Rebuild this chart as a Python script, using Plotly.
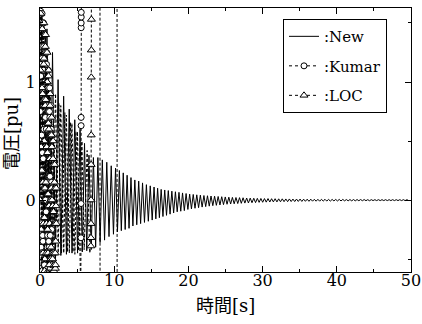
import plotly.graph_objects as go

# ---------------- data ----------------
# "New": one entry per swing cycle: period [s], peak value, trough value
new_periods = [0.75, 0.75, 0.75, 0.75, 0.75, 0.75, 0.75,
               0.60, 0.60, 0.60, 0.60, 0.60, 0.60, 0.60, 0.60,
               0.52, 0.52, 0.52, 0.52, 0.52, 0.52, 0.52, 0.52, 0.52, 0.52] + [0.48] * 72
new_peaks = [1.62, 1.45, 1.25, 1.02, 0.88, 0.77, 0.68,
             0.60, 0.48, 0.38, 0.36, 0.36, 0.34, 0.32, 0.29,
             0.27, 0.25, 0.23, 0.21, 0.19, 0.17, 0.16, 0.145, 0.13, 0.12,
             0.11, 0.10, 0.09, 0.085, 0.08, 0.075, 0.07, 0.065, 0.06, 0.055,
             0.05, 0.047, 0.044, 0.041, 0.038, 0.036, 0.034, 0.032, 0.030, 0.028,
             0.026, 0.024, 0.022, 0.021, 0.020, 0.019, 0.017, 0.016, 0.015, 0.014, 0.013,
             0.012, 0.012, 0.011, 0.011, 0.010, 0.010, 0.009, 0.009, 0.008, 0.008,
             0.008, 0.007, 0.007, 0.007, 0.006, 0.006, 0.006, 0.006, 0.005, 0.005,
             0.005, 0.005, 0.005, 0.004, 0.004, 0.004, 0.004, 0.004, 0.004, 0.003,
             0.003, 0.003, 0.003, 0.003, 0.003, 0.003, 0.003, 0.003, 0.003, 0.003, 0.003]
new_troughs = [-0.55, -0.52, -0.50, -0.47, -0.46, -0.45, -0.45,
               -0.44, -0.43, -0.42, -0.40, -0.36, -0.34, -0.31, -0.29,
               -0.27, -0.26, -0.25, -0.24, -0.22, -0.21, -0.20, -0.19, -0.18, -0.17,
               -0.16, -0.15, -0.14, -0.13, -0.12, -0.11, -0.10, -0.095, -0.09, -0.08,
               -0.075, -0.07, -0.065, -0.06, -0.056, -0.052, -0.048, -0.045, -0.042, -0.039,
               -0.036, -0.034, -0.032, -0.030, -0.028, -0.026, -0.025, -0.023, -0.022, -0.020, -0.019,
               -0.018, -0.017, -0.016, -0.016, -0.015, -0.014, -0.014, -0.013, -0.013, -0.012,
               -0.012, -0.011, -0.011, -0.010, -0.010, -0.010, -0.009, -0.009, -0.009, -0.008,
               -0.008, -0.008, -0.007, -0.007, -0.007, -0.007, -0.006, -0.006, -0.006, -0.006,
               -0.005, -0.005, -0.005, -0.005, -0.005, -0.005, -0.005, -0.005, -0.005, -0.005, -0.005]

# "Kumar": densely sampled start (every 0.025 s, with markers) ...
sample_step = 0.025
kumar_dense = [0.00, 0.75, 1.45, 1.60, 1.05, 0.25, -0.40, -0.58,
               -0.20, 0.55, 1.30, 1.58, 1.20, 0.40, -0.30, -0.60,
               -0.35, 0.35, 1.10, 1.50, 1.30, 0.60, -0.15, -0.55,
               -0.55, 0.10, 0.85, 1.40, 1.25, 0.70, 0.00, -0.45,
               -0.60, -0.10, 0.60, 1.15, 1.25, 0.80, 0.15, -0.40,
               -0.58, -0.30, 0.40, 0.95, 1.10, 0.75, 0.20, -0.35,
               -0.60, -0.40, 0.20, 0.75, 0.95, 0.70, 0.20, -0.30,
               -0.58, -0.50, 0.00, 0.55, 0.80, 0.60, 0.15, -0.25,
               -0.55]
# ... then swing extremes (no markers) and the loss of synchronism
kumar_tail_t = [2.10, 2.45, 2.80, 3.20, 3.55, 3.95, 4.30, 4.70, 5.05, 5.40, 5.50,
                5.52, 5.53, 5.54, 5.545, 5.55, 5.553, 5.556, 5.56, 5.60,
                8.08, 8.10, 9.00]
kumar_tail_v = [0.90, -0.45, 0.80, -0.45, 0.72, -0.45, 0.65, -0.46, 0.58, -0.50, -0.80,
                -0.32, -0.03, 0.63, 0.70, 1.46, 1.50, 1.55, 1.59, 3.00,
                3.00, -3.00, -3.00]
kumar_tail_mark = [0] * 11 + [1] * 8 + [0] * 4

# "LOC": densely sampled start (every 0.025 s, with markers) ...
loc_dense = [0.00, 0.50, 1.10, 1.50, 1.58, 1.15, 0.45, -0.25,
             -0.60, -0.45, 0.25, 0.95, 1.45, 1.50, 0.90, 0.15,
             -0.45, -0.62, -0.20, 0.50, 1.15, 1.50, 1.20, 0.50,
             -0.15, -0.60, -0.50, 0.10, 0.80, 1.30, 1.40, 0.85,
             0.15, -0.45, -0.62, -0.20, 0.45, 1.00, 1.25, 1.00,
             0.40, -0.25, -0.62, -0.45, 0.05, 0.65, 1.05, 1.10,
             0.60, -0.05, -0.55, -0.62, -0.20, 0.35, 0.80, 0.90,
             0.55, 0.00, -0.50, -0.62, -0.40, 0.10, 0.55, 0.70,
             0.45, 0.00, -0.45, -0.62, -0.50, -0.05, 0.35, 0.50,
             0.30, -0.10, -0.45, -0.60, -0.55, -0.20, 0.15, 0.30,
             0.10, -0.20, -0.45, -0.58, -0.55, -0.35, -0.05, 0.10,
             -0.20]
loc_tail_t = [2.55, 2.90, 3.35, 3.70, 4.10, 4.45, 4.85, 5.20, 5.65, 5.95, 6.35, 6.70,
              6.85, 6.86, 6.87, 6.88, 6.89, 6.90, 6.91, 6.92, 6.93, 6.95,
              10.38, 10.40, 11.00]
loc_tail_v = [0.82, -0.45, 0.74, -0.44, 0.66, -0.44, 0.58, -0.43, 0.50, -0.42, 0.42, -0.45,
              -0.39, -0.32, -0.20, 0.00, 0.30, 0.55, 1.04, 1.27, 1.53, 3.00,
              3.00, -3.00, -3.00]
loc_tail_mark = [0] * 12 + [1] * 9 + [0] * 4

x_ticks = [0, 10, 20, 30, 40, 50]
y_ticks = [0, 1]
x_title = "時間[s]"
y_title = "電圧[pu]"

# ---------------- build traces ----------------
new_t, new_v = [0.0], [0.0]
start = 0.0
for P, pk, tr in zip(new_periods, new_peaks, new_troughs):
    new_t += [start + 0.25 * P, start + 0.75 * P]
    new_v += [pk, tr]
    start += P

kumar_t = [i * sample_step for i in range(len(kumar_dense))] + kumar_tail_t
kumar_v = kumar_dense + kumar_tail_v
kumar_mark = [1] * len(kumar_dense) + kumar_tail_mark
loc_t = [i * sample_step for i in range(len(loc_dense))] + loc_tail_t
loc_v = loc_dense + loc_tail_v
loc_mark = [1] * len(loc_dense) + loc_tail_mark

SERIF = "DejaVu Serif, Noto Sans CJK JP"
dash = "3px,2px"

fig = go.Figure()
fig.add_trace(go.Scatter(x=new_t, y=new_v, mode="lines",
                         line=dict(color="black", width=1),
                         showlegend=False, hoverinfo="skip"))
fig.add_trace(go.Scatter(x=kumar_t, y=kumar_v, mode="lines",
                         line=dict(color="black", width=1, dash=dash),
                         showlegend=False, hoverinfo="skip"))
fig.add_trace(go.Scatter(x=loc_t, y=loc_v, mode="lines",
                         line=dict(color="black", width=1, dash=dash),
                         showlegend=False, hoverinfo="skip"))

km_x = [t for t, m in zip(kumar_t, kumar_mark) if m]
km_y = [v for v, m in zip(kumar_v, kumar_mark) if m]
lc_x = [t for t, m in zip(loc_t, loc_mark) if m]
lc_y = [v for v, m in zip(loc_v, loc_mark) if m]

fig.add_trace(go.Scatter(x=km_x, y=km_y, mode="markers",
                         marker=dict(symbol="circle", size=6, color="white",
                                     line=dict(color="black", width=1)),
                         showlegend=False, hoverinfo="skip"))
fig.add_trace(go.Scatter(x=lc_x, y=lc_y, mode="markers",
                         marker=dict(symbol="triangle-up", size=7, color="white",
                                     line=dict(color="black", width=1)),
                         showlegend=False, hoverinfo="skip"))

# legend-only traces
fig.add_trace(go.Scatter(x=[None], y=[None], mode="lines", name=":New",
                         line=dict(color="black", width=1), legendgroup="a"))
fig.add_trace(go.Scatter(x=[None], y=[None], mode="lines+markers", name=":Kumar",
                         line=dict(color="black", width=1, dash="dot"),
                         marker=dict(symbol="circle", size=6, color="white",
                                     line=dict(color="black", width=1)),
                         legendgroup="b"))
fig.add_trace(go.Scatter(x=[None], y=[None], mode="lines+markers", name=":LOC",
                         line=dict(color="black", width=1, dash="dot"),
                         marker=dict(symbol="triangle-up", size=7, color="white",
                                     line=dict(color="black", width=1)),
                         legendgroup="c"))

fig.update_layout(
    width=422, height=324,
    margin=dict(l=40, r=11, t=8, b=52, autoexpand=False),
    paper_bgcolor="white", plot_bgcolor="white",
    font=dict(family=SERIF, color="black", size=16),
    showlegend=True,
    legend=dict(x=0.655, y=0.958, xanchor="left", yanchor="top",
                bgcolor="white", bordercolor="black", borderwidth=1,
                font=dict(family=SERIF, size=15, color="black"),
                traceorder="grouped", tracegroupgap=7,
                itemwidth=30),
    annotations=[
        dict(text=x_title, xref="paper", yref="paper", x=0.5, y=-0.125,
             xanchor="center", yanchor="middle", showarrow=False,
             font=dict(family=SERIF, size=18, color="black")),
        dict(text=y_title, xref="paper", yref="paper", x=-0.075, y=0.523,
             xanchor="center", yanchor="middle", showarrow=False, textangle=-90,
             font=dict(family=SERIF, size=18, color="black")),
    ],
)
fig.update_xaxes(range=[0, 50], tickvals=x_ticks, ticks="inside", ticklen=6,
                 tickcolor="black", showline=True, linecolor="black", linewidth=1,
                 mirror="allticks", showgrid=False, zeroline=False, automargin=False,
                 minor=dict(dtick=5, ticks="inside", ticklen=3, tickcolor="black", showgrid=False),
                 tickfont=dict(family=SERIF, size=16, color="black"),
                 ticklabelstandoff=-6)
fig.update_yaxes(range=[-0.61, 1.627], tickvals=y_ticks, ticks="inside", ticklen=6,
                 tickcolor="black", showline=True, linecolor="black", linewidth=1,
                 mirror="allticks", showgrid=False, zeroline=False, automargin=False,
                 minor=dict(dtick=0.5, ticks="inside", ticklen=3, tickcolor="black", showgrid=False),
                 tickfont=dict(family=SERIF, size=16, color="black"))

fig.write_html("out.html", config={"displayModeBar": False},
               post_script="document.body.style.margin='0px';")
